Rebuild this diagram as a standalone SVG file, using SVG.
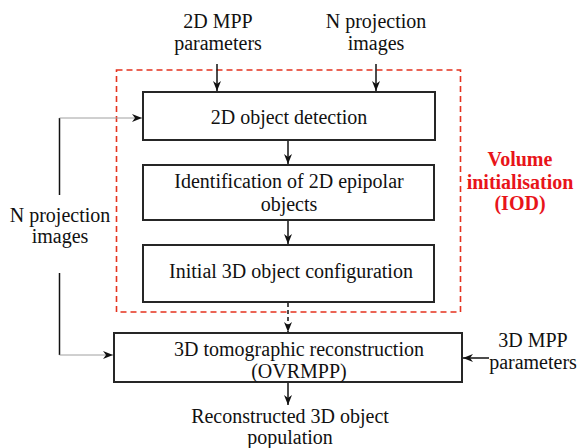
<svg xmlns="http://www.w3.org/2000/svg" width="578" height="448" viewBox="0 0 578 448">
  <style>
    .box { fill: #ffffff; stroke: #262626; stroke-width: 2; }
    .lbl { font-family: "Liberation Serif", Tinos, "Times New Roman", Times, "DejaVu Serif", serif; font-size: 20px; fill: #111; text-anchor: middle; }
    .red { font-family: "Liberation Serif", Tinos, "Times New Roman", Times, "DejaVu Serif", serif; font-size: 20px; font-weight: bold; fill: #e8141a; text-anchor: middle; }
    .wire { fill: none; stroke: #111; stroke-width: 1.5; }
    .thin { fill: none; stroke: #a0a0a0; stroke-width: 1; }
    .frame { fill: none; stroke: #e5321e; stroke-width: 1.6; stroke-dasharray: 6 4; }
  </style>
  <defs>
    <marker id="arr" viewBox="0 0 10 8" refX="10" refY="4" markerWidth="10" markerHeight="8" markerUnits="userSpaceOnUse" orient="auto">
      <path d="M0,0 L10,4 L0,8 L3,4 z" fill="#111"/>
    </marker>
  </defs>

  <!-- volume initialisation frame -->
  <g id="iod-frame">
    <rect class="frame" x="116.5" y="70" width="344" height="242"/>
    <text class="red" x="520" y="166">Volume</text>
    <text class="red" x="520" y="189">initialisation</text>
    <text class="red" x="520" y="210">(IOD)</text>
  </g>

  <!-- free labels -->
  <g id="in-2d-mpp">
    <text class="lbl" x="218" y="28">2D MPP</text>
    <text class="lbl" x="218" y="50">parameters</text>
  </g>
  <g id="in-projections-top">
    <text class="lbl" x="376" y="28">N projection</text>
    <text class="lbl" x="376" y="50">images</text>
  </g>
  <g id="in-projections-left">
    <text class="lbl" x="60" y="222">N projection</text>
    <text class="lbl" x="60" y="243">images</text>
  </g>
  <g id="in-3d-mpp">
    <text class="lbl" x="533" y="347">3D MPP</text>
    <text class="lbl" x="533" y="369">parameters</text>
  </g>
  <g id="out-population">
    <text class="lbl" x="290" y="423">Reconstructed 3D object</text>
    <text class="lbl" x="290" y="444">population</text>
  </g>

  <!-- process nodes -->
  <g id="detection">
    <rect class="box" x="143" y="92" width="292" height="48"/>
    <text class="lbl" x="289" y="124">2D object detection</text>
  </g>
  <g id="epipolar">
    <rect class="box" x="143" y="165" width="291" height="55"/>
    <text class="lbl" x="289" y="188">Identification of 2D epipolar</text>
    <text class="lbl" x="289" y="211">objects</text>
  </g>
  <g id="initial-config">
    <rect class="box" x="143" y="245" width="291" height="57"/>
    <text class="lbl" x="291" y="278">Initial 3D object configuration</text>
  </g>
  <g id="tomography">
    <rect class="box" x="114" y="333" width="348" height="49"/>
    <text class="lbl" x="299" y="356">3D tomographic reconstruction</text>
    <text class="lbl" x="299" y="378">(OVRMPP)</text>
  </g>

  <!-- connectors -->
  <g id="connectors">
    <line class="wire" x1="217" y1="64" x2="217" y2="91" marker-end="url(#arr)"/>
    <line class="wire" x1="376" y1="64" x2="376" y2="91" marker-end="url(#arr)"/>
    <line class="wire" x1="288" y1="141" x2="288" y2="164" marker-end="url(#arr)"/>
    <line class="wire" x1="288" y1="221" x2="288" y2="244" marker-end="url(#arr)"/>
    <line class="wire" x1="288" y1="303" x2="288" y2="332" stroke-dasharray="4 3" marker-end="url(#arr)"/>
    <line class="wire" x1="288" y1="383" x2="288" y2="405" marker-end="url(#arr)"/>
    <line class="wire" x1="489" y1="358" x2="463" y2="358" marker-end="url(#arr)"/>
    <!-- left feed of projection images -->
    <line class="wire" x1="59.5" y1="118" x2="59.5" y2="195"/>
    <line class="wire" x1="59.5" y1="273" x2="59.5" y2="355"/>
    <line class="thin" x1="59.5" y1="118" x2="142" y2="118" marker-end="url(#arr)"/>
    <line class="thin" x1="59.5" y1="355" x2="113" y2="355" marker-end="url(#arr)"/>
  </g>
</svg>
